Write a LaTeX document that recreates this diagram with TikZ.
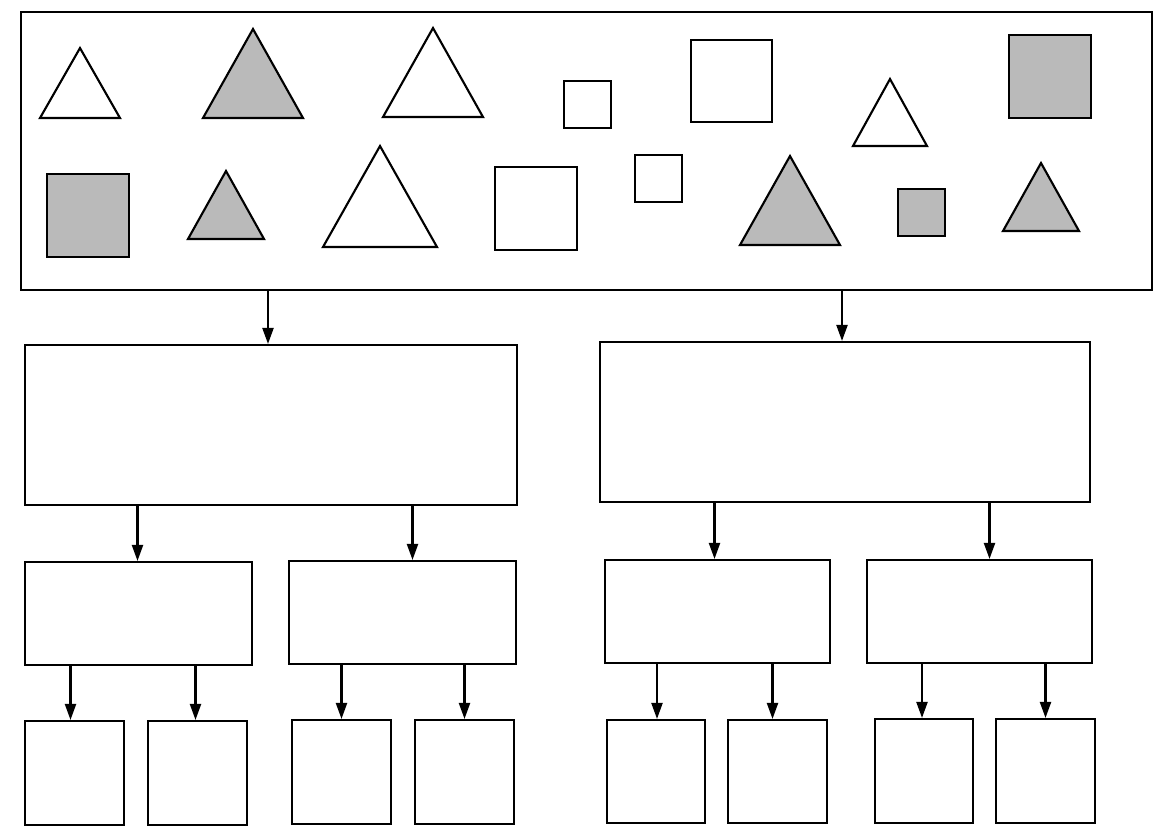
\documentclass[tikz,border=0pt]{standalone}
\usepackage{tikz}
\usetikzlibrary{arrows.meta, positioning}
\definecolor{shapeGrey}{RGB}{186,186,186}

\begin{document}
\begin{tikzpicture}[
  x=0.2mm, y=-0.2mm,
  line width=1.2pt,
  box/.style 2 args={
    rectangle,
    draw=black,
    line width=1.2pt,
    inner sep=0pt,
    minimum width=#1*0.2mm,
    minimum height=#2*0.2mm
  },
  tri/.style={draw=black, line width=1.2pt, line join=miter, fill=#1},
  sq/.style={draw=black, line width=1.2pt, fill=#1},
  arr/.style={-{Triangle[length=3.2mm, width=2.2mm]}, line width=1.2pt, black},
]

\useasboundingbox (0,0) rectangle (1156,835);

% sorting set
\node[box={1131}{278}] (set) at (586.5,151) {};

\foreach \ax/\ay/\hw/\by/\col in {
  80/48/40/118/white, 253/29/50/118/shapeGrey,
  433/28/50/117/white, 890/79/37/146/white,
  226/171/38/239/shapeGrey, 380/146/57/247/white,
  790/156/50/245/shapeGrey, 1041/163/38/231/shapeGrey}
  \draw[tri=\col] (\ax,\ay) -- (\ax+\hw,\by) -- (\ax-\hw,\by) -- cycle;

\foreach \xa/\ya/\xb/\yb/\col in {
  564/81/611/128/white, 691/40/772/122/white,
  1009/35/1091/118/shapeGrey, 47/174/129/257/shapeGrey,
  495/167/577/250/white, 635/155/682/202/white,
  898/189/945/236/shapeGrey}
  \draw[sq=\col] (\xa,\ya) rectangle (\xb,\yb);

% first split
\node[box={492}{160}] (groupA) at (271,425) {};
\node[box={490}{160}] (groupB) at (845,422) {};

% second split
\node[box={227}{103}] (groupAa) at (138.5,613.5) {};
\node[box={227}{103}] (groupAb) at (402.5,612.5) {};
\node[box={225}{103}] (groupBa) at (717.5,611.5) {};
\node[box={225}{103}] (groupBb) at (979.5,611.5) {};

% third split
\node[box={99}{104}] (leafA1) at (74.5,773) {};
\node[box={99}{104}] (leafA2) at (197.5,773) {};
\node[box={99}{104}] (leafA3) at (341.5,772) {};
\node[box={99}{104}] (leafA4) at (464.5,772) {};
\node[box={98}{103}] (leafB1) at (656,771.5) {};
\node[box={99}{103}] (leafB2) at (777.5,771.5) {};
\node[box={98}{104}] (leafB3) at (924,771) {};
\node[box={99}{104}] (leafB4) at (1045.5,771) {};

% arrow ends
\coordinate (inA) at ([xshift=-3*0.2mm]groupA.north);
\coordinate (inB) at ([xshift=-3*0.2mm]groupB.north);
\coordinate (inAa) at ([xshift=-1*0.2mm]groupAa.north);
\coordinate (inAb) at ([xshift=10*0.2mm]groupAb.north);
\coordinate (inBa) at ([xshift=-3*0.2mm]groupBa.north);
\coordinate (inBb) at ([xshift=10*0.2mm]groupBb.north);
\coordinate (inA1) at ([xshift=-4*0.2mm]leafA1.north);
\coordinate (inA2) at ([xshift=-2*0.2mm]leafA2.north);
\coordinate (inB1) at ([xshift=1*0.2mm]leafB1.north);
\coordinate (inB2) at ([xshift=-5*0.2mm]leafB2.north);
\coordinate (inB3) at ([xshift=-2*0.2mm]leafB3.north);

\draw[arr] (set.south -| inA) -- (inA);
\draw[arr] (set.south -| inB) -- (inB);

\draw[arr] (groupA.south -| inAa) -- (inAa);
\draw[arr] (groupA.south -| inAb) -- (inAb);
\draw[arr] (groupB.south -| inBa) -- (inBa);
\draw[arr] (groupB.south -| inBb) -- (inBb);

\draw[arr] (groupAa.south -| inA1) -- (inA1);
\draw[arr] (groupAa.south -| inA2) -- (inA2);
\draw[arr] (groupAb.south -| leafA3.north) -- (leafA3.north);
\draw[arr] (groupAb.south -| leafA4.north) -- (leafA4.north);
\draw[arr] (groupBa.south -| inB1) -- (inB1);
\draw[arr] (groupBa.south -| inB2) -- (inB2);
\draw[arr] (groupBb.south -| inB3) -- (inB3);
\draw[arr] (groupBb.south -| leafB4.north) -- (leafB4.north);

\end{tikzpicture}
\end{document}
